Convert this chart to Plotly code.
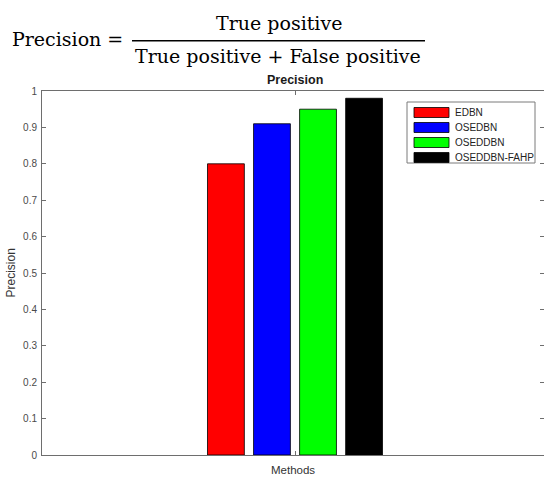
import plotly.graph_objects as go

# ---- data ----
methods = ["EDBN", "OSEDBN", "OSEDDBN", "OSEDDBN-FAHP"]
precision = [0.80, 0.91, 0.95, 0.98]
colors = ["#ff0000", "#0000ff", "#00ff00", "#000000"]
category = ["Methods"]
y_ticks = [0, 0.1, 0.2, 0.3, 0.4, 0.5, 0.6, 0.7, 0.8, 0.9, 1]
y_tick_labels = ["0", "0.1", "0.2", "0.3", "0.4", "0.5", "0.6", "0.7", "0.8", "0.9", "1"]

W, H = 544, 477
PLOT_L, PLOT_T, PLOT_B = 42, 91, 455          # reference pixels
L, T = PLOT_L, PLOT_T
B = H - PLOT_B
PW, PH = W - L, H - T - B


def px(x):
    return (x - PLOT_L) / PW


def py(y):
    return (PLOT_B - y) / PH


fig = go.Figure()
for name, val, col in zip(methods, precision, colors):
    fig.add_trace(go.Bar(
        x=category, y=[val], name=name,
        marker=dict(color=col, line=dict(color="#000000", width=0.8)),
        showlegend=False,
    ))

axis_line = "#6e6e6e"
tick_font = dict(family="Liberation Sans, Arial, sans-serif", size=10, color="#4a4a4a")

fig.update_layout(
    width=W, height=H,
    margin=dict(l=L, r=0, t=T, b=B, pad=0),
    paper_bgcolor="white", plot_bgcolor="white",
    barmode="group", bargap=0.636, bargroupgap=0.2,
    xaxis=dict(
        type="category", range=[-0.5, -0.5 + PW / 506],
        showline=True, linecolor=axis_line, linewidth=1, mirror="ticks",
        ticks="inside", ticklen=4, tickcolor=axis_line,
        showticklabels=False, showgrid=False, zeroline=False,
    ),
    yaxis=dict(
        range=[0, 1], tickvals=y_ticks, ticktext=y_tick_labels,
        showline=True, linecolor=axis_line, linewidth=1, mirror="ticks",
        ticks="inside", ticklen=4, tickcolor=axis_line, ticklabelstandoff=2,
        tickfont=tick_font, showgrid=False, zeroline=False,
    ),
    font=dict(family="Liberation Sans, Arial, sans-serif"),
)

ann = []
shapes = []
eq_font = dict(family="DejaVu Serif, serif", size=19, color="#000000")
# equation
ann.append(dict(x=px(10), y=py(39), xref="paper", yref="paper", text="Precision =",
                showarrow=False, xanchor="left", yanchor="middle", font=eq_font))
ann.append(dict(x=px(278.5), y=py(23), xref="paper", yref="paper", text="True positive",
                showarrow=False, xanchor="center", yanchor="middle", font=eq_font))
ann.append(dict(x=px(278), y=py(56), xref="paper", yref="paper",
                text="True positive + False positive",
                showarrow=False, xanchor="center", yanchor="middle", font=eq_font))
shapes.append(dict(type="line", xref="paper", yref="paper", x0=px(132), x1=px(425),
                   y0=py(40.7), y1=py(40.7), line=dict(color="#000000", width=1.6)))

# chart title
ann.append(dict(x=px(295), y=py(80), xref="paper", yref="paper", text="<b>Precision</b>",
                showarrow=False, xanchor="center", yanchor="middle",
                font=dict(family="Liberation Sans, Arial, sans-serif", size=12.5, color="#1a1a1a")))
# axis titles
ann.append(dict(x=px(293), y=py(469.5), xref="paper", yref="paper", text="Methods",
                showarrow=False, xanchor="center", yanchor="middle", borderpad=0,
                font=dict(family="Liberation Sans, Arial, sans-serif", size=11.5, color="#333333")))
ann.append(dict(x=px(10.5), y=py(273), xref="paper", yref="paper", text="Precision",
                showarrow=False, xanchor="center", yanchor="middle", textangle=-90, borderpad=0,
                font=dict(family="Liberation Sans, Arial, sans-serif", size=12, color="#333333")))

# legend
shapes.append(dict(type="rect", xref="paper", yref="paper", x0=px(407), x1=px(535),
                   y0=py(102), y1=py(163), line=dict(color="#7a7a7a", width=1),
                   fillcolor="white", layer="above"))
for i, (name, col) in enumerate(zip(methods, colors)):
    cy = 112.5 + 15 * i
    shapes.append(dict(type="rect", xref="paper", yref="paper", x0=px(414), x1=px(449),
                       y0=py(cy - 5), y1=py(cy + 5), line=dict(color="#000000", width=0.8),
                       fillcolor=col, layer="above"))
    ann.append(dict(x=px(452.5), y=py(cy), xref="paper", yref="paper", text=name,
                    showarrow=False, xanchor="left", yanchor="middle",
                    font=dict(family="Liberation Sans, Arial, sans-serif", size=10, color="#222222")))

fig.update_layout(annotations=ann, shapes=shapes)
fig.write_html("out.html", config={"displayModeBar": False},
               post_script="document.body.style.margin='0';")
